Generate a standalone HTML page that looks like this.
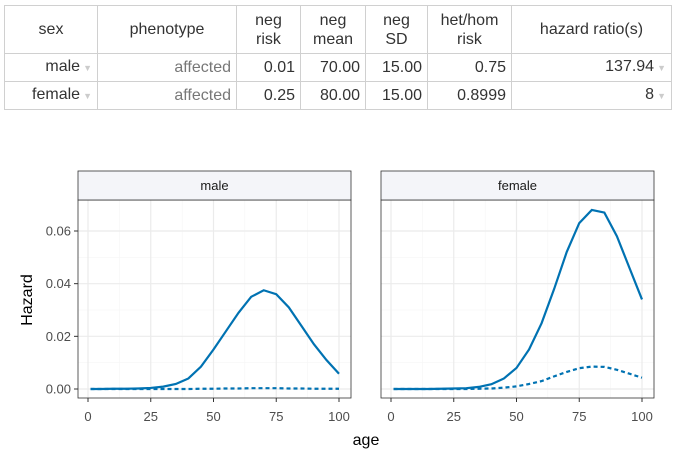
<!DOCTYPE html>
<html><head><meta charset="utf-8"><style>
body{margin:0;width:673px;height:461px;background:#fff;font-family:"Liberation Sans",sans-serif;overflow:hidden}
table{position:absolute;left:4px;top:5px;border-collapse:collapse;font-size:16px;color:#333}
td,th{border:1px solid #d0d0d0;padding:0 5px;font-weight:normal;line-height:19px}
th{height:47px;text-align:center}
td{height:27px;text-align:right}
.tri{color:#ccc;font-size:9px;margin-left:3px}
.grey{color:#777}
</style></head><body>
<table>
<tr>
<th style="width:82px">sex</th>
<th style="width:128px">phenotype</th>
<th style="width:53px">neg<br>risk</th>
<th style="width:54px">neg<br>mean</th>
<th style="width:51px">neg<br>SD</th>
<th style="width:73px">het/hom<br>risk</th>
<th style="width:149px">hazard ratio(s)</th>
</tr>
<tr>
<td>male<span class="tri">▼</span></td>
<td class="grey">affected</td>
<td>0.01</td>
<td>70.00</td>
<td>15.00</td>
<td>0.75</td>
<td>137.94<span class="tri">▼</span></td>
</tr>
<tr>
<td>female<span class="tri">▼</span></td>
<td class="grey">affected</td>
<td>0.25</td>
<td>80.00</td>
<td>15.00</td>
<td>0.8999</td>
<td>8<span class="tri">▼</span></td>
</tr>
</table>
<svg id="chart" width="673" height="461" style="position:absolute;left:0;top:0;pointer-events:none"></svg>
<script>
const ages=[1,5,10,15,20,25,30,35,40,45,50,55,60,65,70,75,80,85,90,95,100];
const maleSolid=[0,0,0.0001,0.0001,0.0002,0.0004,0.0009,0.0019,0.004,0.0085,0.015,0.022,0.029,0.035,0.0375,0.036,0.031,0.024,0.017,0.011,0.0058];
const maleDotted=[0,0,0,0,0,0,0,0,0,0.0001,0.0001,0.0002,0.0002,0.0003,0.0003,0.0003,0.0002,0.0002,0.0001,0.0001,0.0001];
const femaleSolid=[0,0,0,0,0.0001,0.0002,0.0003,0.0008,0.0018,0.004,0.008,0.015,0.025,0.038,0.052,0.063,0.068,0.067,0.058,0.046,0.034];
const femaleDotted=[0,0,0,0,0,0,0,0.0001,0.0002,0.0005,0.001,0.0019,0.003,0.0048,0.0065,0.0079,0.0085,0.0084,0.0073,0.0058,0.0043];
const xTicks=[0,25,50,75,100];
const yTicks=[0,0.02,0.04,0.06];
const yLabels=["0.00","0.02","0.04","0.06"];
const panels=[{name:"male",left:78,solid:maleSolid,dotted:maleDotted},{name:"female",left:381,solid:femaleSolid,dotted:femaleDotted}];
const svg=document.getElementById('chart');
const NS='http://www.w3.org/2000/svg';
function mk(t,a,p){const e=document.createElementNS(NS,t);for(const k in a)e.setAttribute(k,a[k]);(p||svg).appendChild(e);return e;}
const plotTop=200,plotBot=398,W=273;
const yScale=v=>389-v/0.06*158;
panels.forEach((p,pi)=>{
  const xScale=a=>p.left+10+a/100*251;
  const g=mk('g',{});
  
  
  mk('rect',{x:p.left,y:plotTop,width:W,height:plotBot-plotTop,fill:'#fff'},g);
  [0.01,0.03,0.05].forEach(v=>mk('line',{x1:p.left,x2:p.left+W,y1:yScale(v),y2:yScale(v),stroke:'#f5f5f5','stroke-width':0.6},g));
  [12.5,37.5,62.5,87.5].forEach(v=>mk('line',{x1:xScale(v),x2:xScale(v),y1:plotTop,y2:plotBot,stroke:'#f5f5f5','stroke-width':0.6},g));
  yTicks.forEach(v=>{const l=mk('line',{x1:p.left,x2:p.left+W,y1:yScale(v),y2:yScale(v),stroke:'#ebebeb','stroke-width':1.2},g);
    });
  xTicks.forEach(v=>{const l=mk('line',{x1:xScale(v),x2:xScale(v),y1:plotTop,y2:plotBot,stroke:'#ebebeb','stroke-width':1.2},g);
    
    mk('line',{x1:xScale(v),x2:xScale(v),y1:plotBot,y2:plotBot+4,stroke:'#333'},g);
    const t=mk('text',{x:xScale(v),y:plotBot+23,'text-anchor':'middle','font-size':13,fill:'#4d4d4d'},g);t.textContent=v;
    });
  const ls=(arr,dash)=>mk('polyline',{points:arr.map((v,i)=>xScale(ages[i])+','+yScale(v)).join(' '),fill:'none',stroke:'#0072b2','stroke-width':2.2,'stroke-dasharray':dash||'none'},g);
  const d=ls(p.dotted,'4,3');
  
  
  const s=ls(p.solid);
  
  
  mk('rect',{x:p.left,y:plotTop,width:W,height:plotBot-plotTop,fill:'none',stroke:'#333','stroke-width':0.8},g);
  const st=mk('rect',{x:p.left,y:171,width:W,height:29,fill:'#f4f5f9',stroke:'#333','stroke-width':0.8},g);
  
  
  const stt=mk('text',{x:p.left+W/2,y:190,'text-anchor':'middle','font-size':13,fill:'#1a1a1a'},g);stt.textContent=p.name;
  
  
  if(pi===0){yTicks.forEach((v,i)=>{mk('line',{x1:p.left-4,x2:p.left,y1:yScale(v),y2:yScale(v),stroke:'#333'},g);
    const t=mk('text',{x:p.left-7,y:yScale(v)+4.5,'text-anchor':'end','font-size':13,fill:'#4d4d4d'},g);t.textContent=yLabels[i];
    
    });}
});
const yt=mk('text',{x:0,y:0,transform:'translate(32,300) rotate(-90)','text-anchor':'middle','font-size':16,fill:'#000'});yt.textContent='Hazard';


const xt=mk('text',{x:366,y:445,'text-anchor':'middle','font-size':16,fill:'#000'});xt.textContent='age';


</script>
</body></html>
